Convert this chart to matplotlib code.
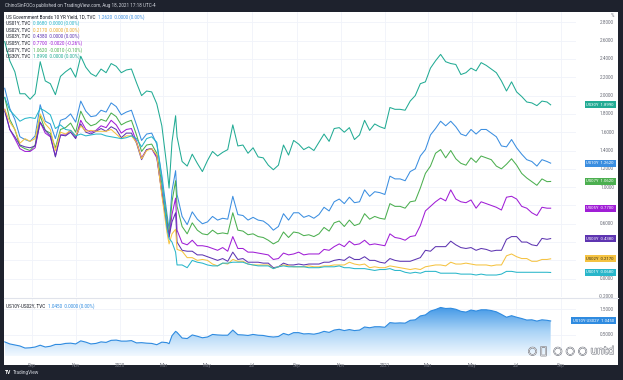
import matplotlib
matplotlib.use("Agg")
import matplotlib.pyplot as plt
import matplotlib.dates as mdates
import matplotlib.patheffects as pe
from matplotlib.colors import LinearSegmentedColormap
from matplotlib.patches import Rectangle
from matplotlib.lines import Line2D
import numpy as np
import pandas as pd

# ---------------- data (weekly closes) ----------------
dates = [
    "2019-07-26",
    "2019-08-02", "2019-08-09", "2019-08-16", "2019-08-23", "2019-08-30",
    "2019-09-06", "2019-09-13", "2019-09-20", "2019-09-27",
    "2019-10-04", "2019-10-11", "2019-10-18", "2019-10-25",
    "2019-11-01", "2019-11-08", "2019-11-15", "2019-11-22", "2019-11-29",
    "2019-12-06", "2019-12-13", "2019-12-20", "2019-12-27",
    "2020-01-03", "2020-01-10", "2020-01-17", "2020-01-24", "2020-01-31",
    "2020-02-07", "2020-02-14", "2020-02-21", "2020-02-28",
    "2020-03-06", "2020-03-09", "2020-03-13", "2020-03-18", "2020-03-20", "2020-03-27",
    "2020-04-03", "2020-04-10", "2020-04-17", "2020-04-24",
    "2020-05-01", "2020-05-08", "2020-05-15", "2020-05-22", "2020-05-29",
    "2020-06-05", "2020-06-12", "2020-06-19", "2020-06-26",
    "2020-07-03", "2020-07-10", "2020-07-17", "2020-07-24", "2020-07-31",
    "2020-08-07", "2020-08-14", "2020-08-21", "2020-08-28",
    "2020-09-04", "2020-09-11", "2020-09-18", "2020-09-25",
    "2020-10-02", "2020-10-09", "2020-10-16", "2020-10-23", "2020-10-30",
    "2020-11-06", "2020-11-13", "2020-11-20", "2020-11-27",
    "2020-12-04", "2020-12-11", "2020-12-18", "2020-12-25",
    "2021-01-01", "2021-01-08", "2021-01-15", "2021-01-22", "2021-01-29",
    "2021-02-05", "2021-02-12", "2021-02-19", "2021-02-26",
    "2021-03-05", "2021-03-12", "2021-03-19", "2021-03-26",
    "2021-04-02", "2021-04-09", "2021-04-16", "2021-04-23", "2021-04-30",
    "2021-05-07", "2021-05-14", "2021-05-21", "2021-05-28",
    "2021-06-04", "2021-06-11", "2021-06-18", "2021-06-25",
    "2021-07-02", "2021-07-09", "2021-07-16", "2021-07-23", "2021-07-30",
    "2021-08-06", "2021-08-13", "2021-08-18",
]

us30y = [
    2.59,
    2.38, 2.26, 2.02, 2.02, 1.96,
    2.02, 2.37, 2.16, 2.13,
    2.01, 2.21, 2.26, 2.30,
    2.20, 2.43, 2.31, 2.24, 2.21,
    2.29, 2.25, 2.35, 2.32,
    2.25, 2.28, 2.29, 2.14, 2.00,
    2.05, 2.04, 1.91, 1.67,
    1.22, 0.99, 1.49, 1.78, 1.55, 1.28,
    1.23, 1.36, 1.26, 1.17,
    1.29, 1.39, 1.34, 1.38, 1.41,
    1.68, 1.45, 1.46, 1.37,
    1.43, 1.33, 1.32, 1.24, 1.19,
    1.24, 1.46, 1.35, 1.51,
    1.47, 1.41, 1.44, 1.40,
    1.49, 1.58, 1.50, 1.64, 1.65,
    1.60, 1.65, 1.52, 1.57,
    1.73, 1.62, 1.69, 1.66,
    1.64, 1.87, 1.85, 1.85, 1.84,
    1.94, 2.00, 2.13, 2.15,
    2.30, 2.38, 2.45, 2.37,
    2.35, 2.34, 2.23, 2.25, 2.30,
    2.27, 2.36, 2.33, 2.29,
    2.25, 2.16, 2.05, 2.15,
    2.04, 1.99, 1.93, 1.92, 1.89,
    1.94, 1.93, 1.899,
]

us10y = [
    2.08,
    1.86, 1.74, 1.55, 1.52, 1.50,
    1.56, 1.90, 1.72, 1.69,
    1.53, 1.73, 1.75, 1.80,
    1.71, 1.94, 1.83, 1.77, 1.78,
    1.84, 1.82, 1.92, 1.88,
    1.79, 1.82, 1.84, 1.68, 1.51,
    1.58, 1.59, 1.47, 1.13,
    0.71, 0.54, 0.96, 1.18, 0.92, 0.68,
    0.59, 0.73, 0.65, 0.60,
    0.62, 0.68, 0.64, 0.66, 0.65,
    0.90, 0.70, 0.69, 0.64,
    0.67, 0.64, 0.63, 0.59, 0.53,
    0.57, 0.71, 0.64, 0.72,
    0.72, 0.67, 0.69, 0.66,
    0.70, 0.78, 0.74, 0.84, 0.87,
    0.82, 0.89, 0.83, 0.84,
    0.97, 0.90, 0.95, 0.94,
    0.92, 1.12, 1.09, 1.09, 1.07,
    1.17, 1.20, 1.34, 1.41,
    1.57, 1.64, 1.72, 1.67,
    1.72, 1.66, 1.58, 1.56, 1.63,
    1.58, 1.63, 1.63, 1.59,
    1.55, 1.45, 1.44, 1.52,
    1.43, 1.36, 1.30, 1.28, 1.23,
    1.30, 1.28, 1.262,
]

us07y = [
    1.98,
    1.74, 1.63, 1.45, 1.42, 1.40,
    1.46, 1.78, 1.62, 1.59,
    1.43, 1.63, 1.65, 1.70,
    1.60, 1.83, 1.72, 1.67, 1.69,
    1.74, 1.72, 1.81, 1.77,
    1.68, 1.71, 1.73, 1.57, 1.39,
    1.46, 1.47, 1.37, 1.04,
    0.66, 0.46, 0.84, 1.07, 0.79, 0.57,
    0.49, 0.61, 0.53, 0.49,
    0.48, 0.53, 0.49, 0.50, 0.49,
    0.72, 0.53, 0.52, 0.48,
    0.49, 0.46, 0.45, 0.42, 0.38,
    0.41, 0.51, 0.45, 0.51,
    0.50, 0.47, 0.48, 0.46,
    0.49, 0.56, 0.52, 0.61, 0.63,
    0.57, 0.64, 0.58, 0.60,
    0.71, 0.65, 0.68, 0.66,
    0.65, 0.82, 0.79, 0.79, 0.77,
    0.84, 0.85, 0.99, 1.15,
    1.23, 1.37, 1.41, 1.32,
    1.40, 1.31, 1.26, 1.24, 1.32,
    1.27, 1.34, 1.32, 1.30,
    1.23, 1.20, 1.25, 1.31,
    1.24, 1.15, 1.10, 1.06, 1.02,
    1.09, 1.06, 1.062,
]

us05y = [
    1.85,
    1.63, 1.53, 1.42, 1.39, 1.39,
    1.43, 1.71, 1.59, 1.55,
    1.34, 1.57, 1.57, 1.62,
    1.54, 1.73, 1.63, 1.60, 1.62,
    1.67, 1.65, 1.73, 1.68,
    1.59, 1.63, 1.64, 1.50, 1.32,
    1.41, 1.42, 1.32, 0.94,
    0.58, 0.45, 0.70, 0.88, 0.53, 0.39,
    0.37, 0.42, 0.36, 0.36,
    0.35, 0.33, 0.31, 0.34, 0.30,
    0.46, 0.33, 0.33, 0.29,
    0.29, 0.28, 0.27, 0.26, 0.21,
    0.22, 0.28, 0.26, 0.27,
    0.29, 0.26, 0.27, 0.27,
    0.27, 0.32, 0.31, 0.35, 0.38,
    0.35, 0.41, 0.37, 0.38,
    0.42, 0.37, 0.38, 0.37,
    0.36, 0.49, 0.45, 0.44, 0.42,
    0.46, 0.47, 0.58, 0.74,
    0.79, 0.84, 0.88, 0.85,
    0.97, 0.87, 0.84, 0.83, 0.86,
    0.77, 0.84, 0.82, 0.80,
    0.78, 0.75, 0.89, 0.90,
    0.87, 0.79, 0.77, 0.72, 0.69,
    0.78, 0.77, 0.770,
]

us03y = [
    1.83,
    1.63, 1.55, 1.46, 1.44, 1.43,
    1.45, 1.71, 1.62, 1.56,
    1.33, 1.57, 1.56, 1.60,
    1.53, 1.69, 1.60, 1.58, 1.61,
    1.64, 1.61, 1.66, 1.63,
    1.54, 1.59, 1.59, 1.48, 1.30,
    1.41, 1.42, 1.34, 0.94,
    0.58, 0.46, 0.62, 0.72, 0.40, 0.31,
    0.30, 0.30, 0.26, 0.26,
    0.24, 0.22, 0.20, 0.22, 0.19,
    0.29, 0.21, 0.22, 0.18,
    0.18, 0.18, 0.17, 0.17, 0.12,
    0.13, 0.17, 0.15, 0.15,
    0.16, 0.15, 0.16, 0.16,
    0.16, 0.18, 0.18, 0.20, 0.21,
    0.20, 0.24, 0.21, 0.21,
    0.24, 0.20, 0.20, 0.18,
    0.17, 0.22, 0.20, 0.19, 0.19,
    0.19, 0.21, 0.23, 0.31,
    0.30, 0.35, 0.35, 0.35,
    0.41, 0.37, 0.34, 0.33, 0.34,
    0.31, 0.33, 0.32, 0.30,
    0.31, 0.31, 0.43, 0.46,
    0.46, 0.40, 0.40, 0.37, 0.36,
    0.44, 0.43, 0.438,
]

us02y = [
    1.85,
    1.71, 1.63, 1.48, 1.53, 1.50,
    1.53, 1.80, 1.69, 1.63,
    1.40, 1.60, 1.58, 1.62,
    1.56, 1.67, 1.61, 1.62, 1.61,
    1.61, 1.61, 1.63, 1.58,
    1.53, 1.56, 1.56, 1.49, 1.31,
    1.40, 1.42, 1.35, 0.91,
    0.51, 0.38, 0.49, 0.54, 0.32, 0.30,
    0.23, 0.23, 0.20, 0.21,
    0.20, 0.16, 0.14, 0.17, 0.16,
    0.21, 0.19, 0.19, 0.16,
    0.15, 0.15, 0.15, 0.15, 0.11,
    0.13, 0.15, 0.14, 0.13,
    0.13, 0.13, 0.14, 0.13,
    0.13, 0.14, 0.14, 0.15, 0.15,
    0.15, 0.18, 0.16, 0.15,
    0.16, 0.12, 0.13, 0.12,
    0.12, 0.14, 0.13, 0.12, 0.11,
    0.10, 0.11, 0.10, 0.13,
    0.14, 0.15, 0.15, 0.14,
    0.18, 0.16, 0.16, 0.17, 0.16,
    0.15, 0.15, 0.15, 0.14,
    0.15, 0.15, 0.25, 0.27,
    0.24, 0.22, 0.22, 0.19, 0.19,
    0.21, 0.21, 0.217,
]

us01y = [
    1.98,
    1.84, 1.78, 1.72, 1.75, 1.76,
    1.75, 1.86, 1.83, 1.79,
    1.64, 1.68, 1.63, 1.62,
    1.56, 1.58, 1.56, 1.57, 1.58,
    1.58, 1.56, 1.55, 1.54,
    1.53, 1.54, 1.56, 1.53, 1.44,
    1.53, 1.55, 1.49, 1.09,
    0.56, 0.44, 0.40, 0.29, 0.15, 0.15,
    0.12, 0.20, 0.18, 0.17,
    0.15, 0.14, 0.14, 0.17, 0.17,
    0.18, 0.18, 0.18, 0.16,
    0.15, 0.14, 0.14, 0.14, 0.11,
    0.13, 0.14, 0.13, 0.13,
    0.13, 0.13, 0.12, 0.12,
    0.12, 0.13, 0.13, 0.13, 0.14,
    0.12, 0.12, 0.11, 0.11,
    0.11, 0.10, 0.09, 0.10,
    0.10, 0.11, 0.09, 0.09, 0.07,
    0.06, 0.07, 0.06, 0.08,
    0.08, 0.08, 0.06, 0.06,
    0.06, 0.06, 0.05, 0.05, 0.05,
    0.04, 0.05, 0.04, 0.04,
    0.04, 0.05, 0.08, 0.08,
    0.07, 0.07, 0.07, 0.07, 0.07,
    0.07, 0.07, 0.068,
]

time_tick_dates = ["2019-09-01", "2019-11-01", "2020-01-01", "2020-03-01", "2020-05-01",
                   "2020-07-01", "2020-09-01", "2020-11-01", "2021-01-01", "2021-03-01",
                   "2021-05-01", "2021-07-01", "2021-09-01"]
time_tick_labels = ["Sep", "Nov", "2020", "Mar", "May", "Jul", "Sep", "Nov", "2021",
                    "Mar", "May", "Jul", "Sep"]
price_ticks = [-0.2, 0.0, 0.2, 0.4, 0.6, 0.8, 1.0, 1.2, 1.4, 1.6, 1.8, 2.0, 2.2, 2.4, 2.6, 2.8]
spread_ticks = [0.5, 1.5]

C30, C10, C07, C05, C03, C02, C01 = ("#22ab94", "#3b8ee0", "#4caf50", "#a01ed6",
                                     "#5e35b1", "#f5c342", "#28b6ca")
CSP = "#2f8be0"

# ---------------- figure ----------------
W, H = 623, 380
plt.rcParams['font.family'] = ['Roboto', 'DejaVu Sans']
fig = plt.figure(figsize=(W / 100, H / 100), dpi=100)
fig.patch.set_facecolor('#1e222d')


def fx(px):
    return px / W


def fy(py):
    return 1 - py / H


fig.add_artist(Rectangle((fx(4), fy(365)), fx(618) - fx(4), fy(12) - fy(365),
                         transform=fig.transFigure, facecolor='white',
                         edgecolor='none', zorder=0))
fig.add_artist(Line2D([fx(4), fx(618)], [fy(298), fy(298)], transform=fig.transFigure,
                      color='#e0e3eb', lw=0.8, zorder=1))

ax = fig.add_axes([fx(4), fy(297), fx(576) - fx(4), fy(12) - fy(297)])
ax2 = fig.add_axes([fx(4), fy(356), fx(576) - fx(4), fy(299) - fy(356)])

x = mdates.date2num(pd.to_datetime(dates))
xl = (mdates.date2num(pd.Timestamp("2019-07-25")), mdates.date2num(pd.Timestamp("2021-09-22")))
xt = mdates.date2num(pd.to_datetime(time_tick_dates))

for a in (ax, ax2):
    a.set_facecolor('none')
    for s in a.spines.values():
        s.set_visible(False)
    a.set_xlim(*xl)
    a.set_xticks(xt)
    a.tick_params(left=False, right=False, bottom=False, top=False,
                  labelleft=False, labelright=False)
    a.grid(True, color='#f0f3fa', lw=0.6, zorder=0)
    a.set_axisbelow(True)

ax.tick_params(labelbottom=False)
ylo, yhi = -0.185, 2.913
ax.set_ylim(ylo, yhi)
ax.set_yticks(price_ticks)

lw = 0.75
ax.plot(x, us30y, color=C30, lw=lw, zorder=3)
ax.plot(x, us10y, color=C10, lw=lw, zorder=3)
ax.plot(x, us07y, color=C07, lw=lw, zorder=3)
ax.plot(x, us05y, color=C05, lw=lw, zorder=3)
ax.plot(x, us03y, color=C03, lw=lw, zorder=3)
ax.plot(x, us02y, color=C02, lw=lw, zorder=3)
ax.plot(x, us01y, color=C01, lw=lw, zorder=3)

last_vals = [us30y[-1], us10y[-1], us07y[-1], us05y[-1], us03y[-1], us02y[-1], us01y[-1]]
px_per_unit = (297 - 12) / (yhi - ylo)

# price scale labels (main); hidden where a value tag sits on top (as TradingView does)
xr = (614 - 4) / (576 - 4)
for v in price_ticks:
    if min(abs(v - lv) for lv in last_vals) * px_per_unit < 5:
        continue
    ax.text(xr, v, f"{v:.4f}", transform=ax.get_yaxis_transform(), ha='right',
            va='center', fontsize=3.3, color='#6a6d78', clip_on=False, zorder=5)
ax.text(xr, 2.87, "%", transform=ax.get_yaxis_transform(), ha='right', va='center',
        fontsize=3.3, color='#6a6d78', clip_on=False)


def tag(axis, val, label, fc, tc='white'):
    axis.text(xr, val, label, transform=axis.get_yaxis_transform(), ha='right',
              va='center', fontsize=3.1, color=tc, clip_on=False, zorder=10,
              bbox=dict(boxstyle='square,pad=0.35', fc=fc, ec='none'))


tag(ax, us30y[-1], f"US30Y  {us30y[-1]:.4f}", C30)
tag(ax, us10y[-1], f"US10Y  {us10y[-1]:.4f}", C10)
tag(ax, us07y[-1], f"US07Y  {us07y[-1]:.4f}", C07)
tag(ax, us05y[-1], f"US05Y  {us05y[-1]:.4f}", C05)
tag(ax, us03y[-1], f"US03Y  {us03y[-1]:.4f}", C03)
tag(ax, us02y[-1], f"US02Y  {us02y[-1]:.4f}", C02, tc='#3a3220')
tag(ax, us01y[-1], f"US01Y  {us01y[-1]:.4f}", C01)

# ---------------- lower pane: 10Y-2Y spread ----------------
spread = np.array(us10y) - np.array(us02y)
y2lo, y2hi = -0.32, 1.9
ax2.set_ylim(y2lo, y2hi)
ax2.set_yticks(spread_ticks)
poly = ax2.fill_between(x, spread, y2lo, facecolor='none', edgecolor='none')
cmap = LinearSegmentedColormap.from_list('g', ['#f3f9ff', '#a9d3f6', '#3f96e6'])
grad = np.linspace(0, 1, 256).reshape(-1, 1)
im = ax2.imshow(grad, extent=[x[0], x[-1], y2lo, 1.62], origin='lower', aspect='auto',
                cmap=cmap, zorder=1)
im.set_clip_path(poly.get_paths()[0], transform=ax2.transData)
ax2.plot(x, spread, color=CSP, lw=0.8, zorder=3)
ax2.set_xlim(*xl)
ax2.set_ylim(y2lo, y2hi)
ax2.set_xticklabels(time_tick_labels)
ax2.tick_params(axis='x', labelsize=3.3, labelcolor='#6a6d78', pad=1.2)

for v in spread_ticks:
    ax2.text(xr, v, f"{v:.4f}", transform=ax2.get_yaxis_transform(), ha='right',
             va='center', fontsize=3.3, color='#6a6d78', clip_on=False)
tag(ax2, spread[-1], f"US10Y-US02Y  {spread[-1]:.4f}", CSP)

# ---------------- legends / texts ----------------
fig.text(fx(5), fy(5.5), "ChinoSinFOCo published on TradingView.com, Aug 18, 2021 17:18 UTC-4",
         fontsize=3.3, color='#d1d4dc', va='center', ha='left')

legend_rows = [
    ("US Government Bonds 10 YR Yield, 1D, TVC", f"{us10y[-1]:.4f}  0.0000 (0.00%)", C10),
    ("US01Y, TVC", f"{us01y[-1]:.4f}  0.0000 (0.00%)", C01),
    ("US02Y, TVC", f"{us02y[-1]:.4f}  0.0000 (0.00%)", "#e8a92a"),
    ("US03Y, TVC", f"{us03y[-1]:.4f}  0.0000 (0.00%)", C03),
    ("US05Y, TVC", f"{us05y[-1]:.4f}  -0.0020 (-0.26%)", C05),
    ("US07Y, TVC", f"{us07y[-1]:.4f}  -0.0010 (-0.10%)", C07),
    ("US30Y, TVC", f"{us30y[-1]:.4f}  0.0000 (0.00%)", C30),
]
rows = []
for i, (name, val, col) in enumerate(legend_rows):
    yy = 16.7 + i * 6.6
    t = fig.text(fx(6), fy(yy), name, fontsize=3.3, color='#131722', va='center', ha='left')
    rows.append((t, yy, val, col))
t2 = fig.text(fx(6), fy(306), "US10Y-US02Y, TVC", fontsize=3.3, color='#131722',
              va='center', ha='left')
rows.append((t2, 306, f"{spread[-1]:.4f}  0.0000 (0.00%)", CSP))

fig.canvas.draw()
r = fig.canvas.get_renderer()
for t, yy, val, col in rows:
    bb = t.get_window_extent(r)
    fig.text((bb.x1 + 3) / W, fy(yy), val, fontsize=3.3, color=col, va='center', ha='left')

# watermark
fig.text(fx(528), fy(351), "○ ⓘ  ○ ○ ○ untd", fontsize=7.5, color='white', va='center',
         ha='left', family=['DejaVu Sans'],
         path_effects=[pe.withStroke(linewidth=0.8, foreground='#7a7d86')], zorder=20)

# bottom bar
fig.text(fx(5), fy(372.5), "TV", fontsize=3.6, color='white', weight='bold', va='center',
         ha='left')
fig.text(fx(13), fy(372.5), "TradingView", fontsize=3.4, color='#d1d4dc', va='center',
         ha='left')

fig.savefig("out.png", dpi=100, facecolor=fig.get_facecolor())
